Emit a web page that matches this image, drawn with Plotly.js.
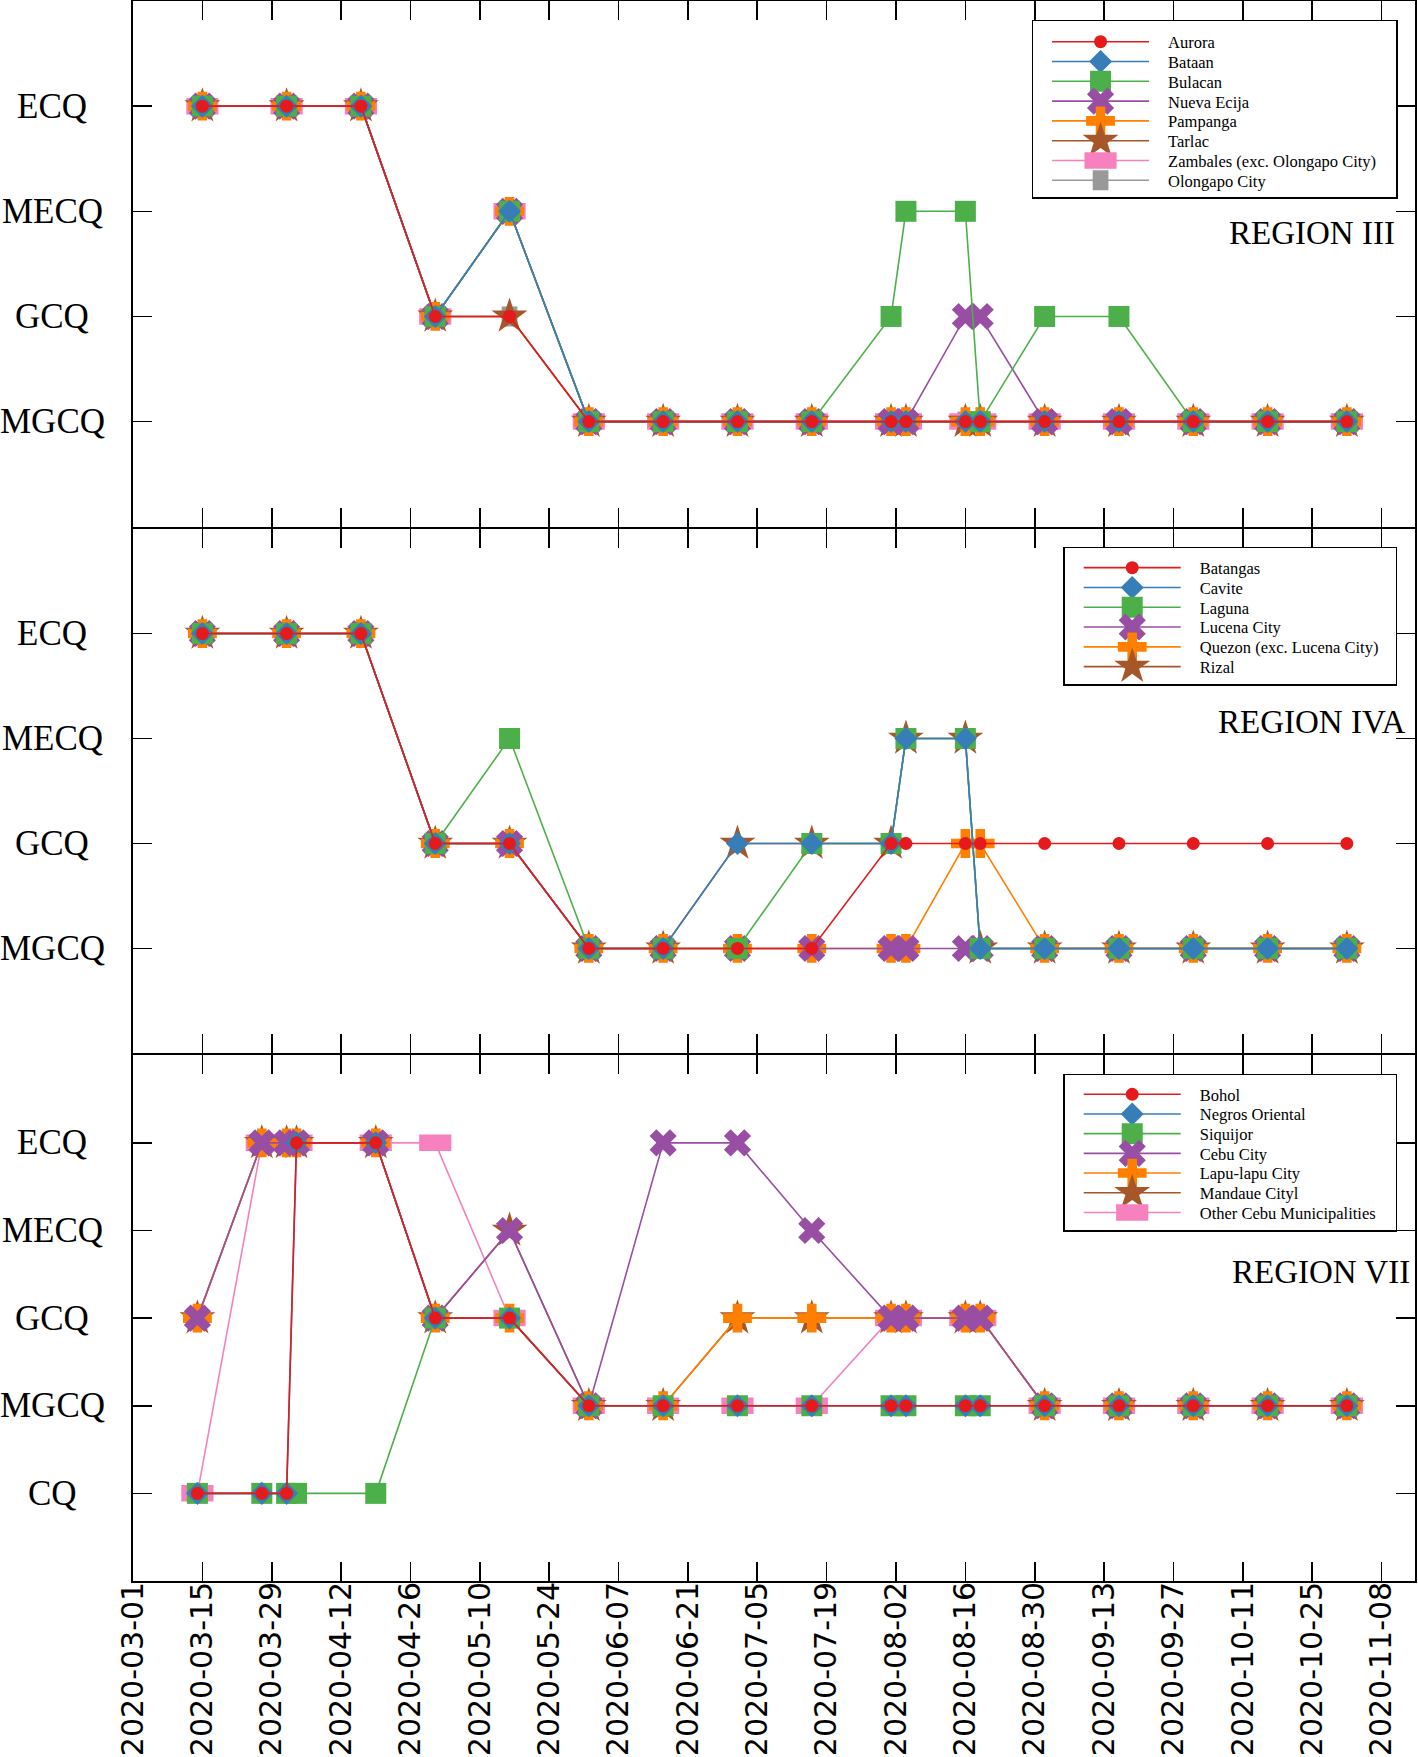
<!DOCTYPE html>
<html>
<head>
<meta charset="utf-8">
<script src="https://cdn.plot.ly/plotly-3.0.1.min.js"></script>
<style>
  html, body { margin: 0; padding: 0; background: #fff; }
  #chart { width: 1418px; height: 1757px; }
</style>
</head>
<body>
<div id="chart"></div>
<script>
// ---------------- DATA ----------------
const levelsA = ['MGCQ', 'GCQ', 'MECQ', 'ECQ'];          // Region III & IVA y categories (bottom -> top)
const levelsB = ['CQ', 'MGCQ', 'GCQ', 'MECQ', 'ECQ'];    // Region VII y categories (bottom -> top)
const regionTitles = ['REGION III', 'REGION IVA', 'REGION VII'];

const datesA = ['2020-03-15','2020-04-01','2020-04-16','2020-05-01','2020-05-16','2020-06-01',
  '2020-06-16','2020-07-01','2020-07-16','2020-08-01','2020-08-04','2020-08-16','2020-08-19',
  '2020-09-01','2020-09-16','2020-10-01','2020-10-16','2020-11-01'];
const datesB = ['2020-03-14','2020-03-27','2020-04-01','2020-04-03','2020-04-19','2020-05-01',
  '2020-05-16','2020-06-01','2020-06-16','2020-07-01','2020-07-16','2020-08-01','2020-08-04',
  '2020-08-16','2020-08-19','2020-09-01','2020-09-16','2020-10-01','2020-10-16','2020-11-01'];

// Region III
const r3Names = ['Aurora', 'Bataan', 'Bulacan', 'Nueva Ecija', 'Pampanga', 'Tarlac',
  'Zambales (exc. Olongapo City)', 'Olongapo City'];
const aurora     = ['ECQ','ECQ','ECQ','GCQ','GCQ','MGCQ','MGCQ','MGCQ','MGCQ','MGCQ','MGCQ','MGCQ','MGCQ','MGCQ','MGCQ','MGCQ','MGCQ','MGCQ'];
const bataan     = ['ECQ','ECQ','ECQ','GCQ','MECQ','MGCQ','MGCQ','MGCQ','MGCQ','MGCQ','MGCQ','MGCQ','MGCQ','MGCQ','MGCQ','MGCQ','MGCQ','MGCQ'];
const bulacan    = ['ECQ','ECQ','ECQ','GCQ','MECQ','MGCQ','MGCQ','MGCQ','MGCQ','GCQ','MECQ','MECQ','MGCQ','GCQ','GCQ','MGCQ','MGCQ','MGCQ'];
const nuevaEcija = ['ECQ','ECQ','ECQ','GCQ','MECQ','MGCQ','MGCQ','MGCQ','MGCQ','MGCQ','MGCQ','GCQ','GCQ','MGCQ','MGCQ','MGCQ','MGCQ','MGCQ'];
const pampanga   = ['ECQ','ECQ','ECQ','GCQ','MECQ','MGCQ','MGCQ','MGCQ','MGCQ','MGCQ','MGCQ','MGCQ','MGCQ','MGCQ','MGCQ','MGCQ','MGCQ','MGCQ'];
const tarlac     = ['ECQ','ECQ','ECQ','GCQ','GCQ','MGCQ','MGCQ','MGCQ','MGCQ','MGCQ','MGCQ','MGCQ','MGCQ','MGCQ','MGCQ','MGCQ','MGCQ','MGCQ'];
const zambales   = ['ECQ','ECQ','ECQ','GCQ','MECQ','MGCQ','MGCQ','MGCQ','MGCQ','MGCQ','MGCQ','MGCQ','MGCQ','MGCQ','MGCQ','MGCQ','MGCQ','MGCQ'];
const olongapo   = ['ECQ','ECQ','ECQ','GCQ','GCQ','MGCQ','MGCQ','MGCQ','MGCQ','MGCQ','MGCQ','MGCQ','MGCQ','MGCQ','MGCQ','MGCQ','MGCQ','MGCQ'];

// Region IVA
const r4Names = ['Batangas', 'Cavite', 'Laguna', 'Lucena City', 'Quezon (exc. Lucena City)', 'Rizal'];
const batangas = ['ECQ','ECQ','ECQ','GCQ','GCQ','MGCQ','MGCQ','MGCQ','MGCQ','GCQ','GCQ','GCQ','GCQ','GCQ','GCQ','GCQ','GCQ','GCQ'];
const cavite   = ['ECQ','ECQ','ECQ','GCQ','GCQ','MGCQ','MGCQ','GCQ','GCQ','GCQ','MECQ','MECQ','MGCQ','MGCQ','MGCQ','MGCQ','MGCQ','MGCQ'];
const laguna   = ['ECQ','ECQ','ECQ','GCQ','MECQ','MGCQ','MGCQ','MGCQ','GCQ','GCQ','MECQ','MECQ','MGCQ','MGCQ','MGCQ','MGCQ','MGCQ','MGCQ'];
const lucena   = ['ECQ','ECQ','ECQ','GCQ','GCQ','MGCQ','MGCQ','MGCQ','MGCQ','MGCQ','MGCQ','MGCQ','MGCQ','MGCQ','MGCQ','MGCQ','MGCQ','MGCQ'];
const quezon   = ['ECQ','ECQ','ECQ','GCQ','GCQ','MGCQ','MGCQ','MGCQ','MGCQ','MGCQ','MGCQ','GCQ','GCQ','MGCQ','MGCQ','MGCQ','MGCQ','MGCQ'];
const rizal    = ['ECQ','ECQ','ECQ','GCQ','GCQ','MGCQ','MGCQ','GCQ','GCQ','GCQ','MECQ','MECQ','MGCQ','MGCQ','MGCQ','MGCQ','MGCQ','MGCQ'];

// Region VII
const r7Names = ['Bohol', 'Negros Oriental', 'Siquijor', 'Cebu City', 'Lapu-lapu City', 'Mandaue Cityl',
  'Other Cebu Municipalities'];
const bohol     = ['CQ','CQ','CQ','ECQ','ECQ','GCQ','GCQ','MGCQ','MGCQ','MGCQ','MGCQ','MGCQ','MGCQ','MGCQ','MGCQ','MGCQ','MGCQ','MGCQ','MGCQ','MGCQ'];
const negros    = ['CQ','CQ','CQ','ECQ','ECQ','GCQ','GCQ','MGCQ','MGCQ','MGCQ','MGCQ','MGCQ','MGCQ','MGCQ','MGCQ','MGCQ','MGCQ','MGCQ','MGCQ','MGCQ'];
const siquijor  = ['CQ','CQ','CQ','CQ','CQ','GCQ','GCQ','MGCQ','MGCQ','MGCQ','MGCQ','MGCQ','MGCQ','MGCQ','MGCQ','MGCQ','MGCQ','MGCQ','MGCQ','MGCQ'];
const cebuCity  = ['GCQ','ECQ','ECQ','ECQ','ECQ','GCQ','MECQ','MGCQ','ECQ','ECQ','MECQ','GCQ','GCQ','GCQ','GCQ','MGCQ','MGCQ','MGCQ','MGCQ','MGCQ'];
const lapulapu  = ['GCQ','ECQ','ECQ','ECQ','ECQ','GCQ','GCQ','MGCQ','MGCQ','GCQ','GCQ','GCQ','GCQ','GCQ','GCQ','MGCQ','MGCQ','MGCQ','MGCQ','MGCQ'];
const mandaue   = ['GCQ','ECQ','ECQ','ECQ','ECQ','GCQ','MECQ','MGCQ','MGCQ','GCQ','GCQ','GCQ','GCQ','GCQ','GCQ','MGCQ','MGCQ','MGCQ','MGCQ','MGCQ'];
const otherCebu = ['CQ','ECQ','ECQ','ECQ','ECQ','ECQ','GCQ','MGCQ','MGCQ','MGCQ','MGCQ','GCQ','GCQ','GCQ','GCQ','MGCQ','MGCQ','MGCQ','MGCQ','MGCQ'];

const xTickStart = '2020-03-01';
const xRange = ['2020-03-01', '2020-11-14 18:00'];

// ---------------- STYLE ----------------
const colors = ['#e41a1c', '#377eb8', '#4daf4a', '#984ea3', '#ff7f00', '#a65628', '#f781bf', '#999999'];
const markerStyles = [
  {symbol: 'circle', size: 13},
  {symbol: 'diamond', size: 17.7},
  {symbol: 'square', size: 21},
  {symbol: 'x', size: 24},
  {symbol: 'cross', size: 24},
  {symbol: 'star', size: 27},
  {symbol: 'line-ew', size: 23, lw: 16.5},
  {symbol: 'line-ns', size: 14.3, lw: 15.7}
];

function makeTrace(name, dates, vals, idx, xa, ya, legendId) {
  const ms = markerStyles[idx];
  const marker = {symbol: ms.symbol, size: ms.size, color: colors[idx]};
  marker.line = ms.lw ? {width: ms.lw, color: colors[idx]} : {width: 0};
  return {
    type: 'scatter', mode: 'lines+markers', name: name,
    x: dates, y: vals, xaxis: xa, yaxis: ya, legend: legendId,
    line: {color: colors[idx], width: 1.6},
    marker: marker, cliponaxis: false
  };
}

const traces = [];
const r3Vals = [aurora, bataan, bulacan, nuevaEcija, pampanga, tarlac, zambales, olongapo];
const r4Vals = [batangas, cavite, laguna, lucena, quezon, rizal];
const r7Vals = [bohol, negros, siquijor, cebuCity, lapulapu, mandaue, otherCebu];
// draw in reverse so the first series is on top
for (let i = r3Vals.length - 1; i >= 0; i--) traces.push(makeTrace(r3Names[i], datesA, r3Vals[i], i, 'x', 'y', 'legend'));
for (let i = r4Vals.length - 1; i >= 0; i--) traces.push(makeTrace(r4Names[i], datesA, r4Vals[i], i, 'x2', 'y2', 'legend2'));
for (let i = r7Vals.length - 1; i >= 0; i--) traces.push(makeTrace(r7Names[i], datesB, r7Vals[i], i, 'x3', 'y3', 'legend3'));

const LW = 1.8;
const gap = LW / 1579.6;
const axisCommon = {
  showline: true, linecolor: '#000', linewidth: LW, mirror: 'ticks',
  ticks: 'inside', ticklen: 19, tickwidth: 1.6, tickcolor: '#000',
  showgrid: false, zeroline: false
};
const xCommon = Object.assign({}, axisCommon, {
  type: 'date', range: xRange, tick0: xTickStart, dtick: 14 * 86400000, tickformat: '%Y-%m-%d'
});

const serif = 'Liberation Serif, Times New Roman, serif';
const legendCommon = {
  xanchor: 'left', yanchor: 'top', bordercolor: '#000', borderwidth: 1.5, bgcolor: '#fff',
  font: {family: serif, size: 16.5, color: '#000'}, itemwidth: 125, traceorder: 'reversed'
};

const annotations = [];
function addTickLabels(levels, yref) {
  levels.forEach(function (lv, i) {
    annotations.push({xref: 'paper', yref: yref, x: -0.063, y: i, text: lv, showarrow: false,
      xanchor: 'center', yanchor: 'middle', font: {family: serif, size: 35, color: '#000'}});
  });
}
addTickLabels(levelsA, 'y');
addTickLabels(levelsA, 'y2');
addTickLabels(levelsB, 'y3');
const titlePos = [{x: 0.9862, y: 1.79, yref: 'y'}, {x: 0.9936, y: 2.16, yref: 'y2'}, {x: 0.998, y: 2.53, yref: 'y3'}];
regionTitles.forEach(function (t, i) {
  annotations.push({xref: 'paper', yref: titlePos[i].yref, x: titlePos[i].x, y: titlePos[i].y, text: t,
    showarrow: false, xanchor: 'right', yanchor: 'middle', font: {family: serif, size: 33, color: '#000'}});
});

const layout = {
  width: 1418, height: 1757,
  margin: {l: 133, r: 3, t: 1, b: 176},
  paper_bgcolor: '#fff', plot_bgcolor: '#fff',
  showlegend: true,
  xaxis: Object.assign({}, xCommon, {anchor: 'y', showticklabels: false}),
  xaxis2: Object.assign({}, xCommon, {anchor: 'y2', matches: 'x', showticklabels: false}),
  xaxis3: Object.assign({}, xCommon, {anchor: 'y3', matches: 'x', showticklabels: true, tickangle: -90,
    ticklabelstandoff: -13,
    tickfont: {family: 'DejaVu Sans, sans-serif', size: 30, color: '#000'}}),
  yaxis: Object.assign({}, axisCommon, {domain: [2/3 + gap / 2, 1], anchor: 'x', type: 'category',
    categoryorder: 'array', categoryarray: levelsA, range: [-1, 4], showticklabels: false}),
  yaxis2: Object.assign({}, axisCommon, {domain: [1/3 + gap / 2, 2/3 - gap / 2], anchor: 'x2', type: 'category',
    categoryorder: 'array', categoryarray: levelsA, range: [-1, 4], showticklabels: false}),
  yaxis3: Object.assign({}, axisCommon, {domain: [0, 1/3 - gap / 2], anchor: 'x3', type: 'category',
    categoryorder: 'array', categoryarray: levelsB, range: [-1, 5], showticklabels: false}),
  legend: Object.assign({}, legendCommon, {x: 0.7009, y: 0.988}),
  legend2: Object.assign({}, legendCommon, {x: 0.7256, y: 0.6545}),
  legend3: Object.assign({}, legendCommon, {x: 0.7256, y: 0.3212}),
  annotations: annotations
};

// legend box geometry (px): width, height, first-entry offset, entry spacing
const legendBoxes = {
  legend:  {w: 366, h: 179, first: 21, step: 19.8},
  legend2: {w: 334, h: 139, first: 20, step: 19.8},
  legend3: {w: 334, h: 158, first: 20, step: 19.7}
};

function tidyLegends(gd) {
  // plot marker path per trace index, so legend symbols match the plotted markers
  const plotPts = {};
  gd.querySelectorAll('.scatterlayer g.trace').forEach(function (g) {
    const cd = g.__data__;
    if (!cd || !cd[0] || !cd[0].trace) return;
    const p = g.querySelector('path.point');
    if (p) plotPts[cd[0].trace.index] = p;
  });
  Object.keys(legendBoxes).forEach(function (id) {
    const spec = legendBoxes[id];
    const lg = gd.querySelector('g.' + id);
    if (!lg) return;
    const bg = lg.querySelector('rect.bg');
    const bw = 1.5;
    const items = Array.prototype.slice.call(lg.querySelectorAll('g.traces'));
    const parseT = function (el) {
      const m = /translate\(\s*([-\d.e]+)[\s,]+([-\d.e]+)\s*\)/.exec(el.getAttribute('transform') || '');
      return m ? [parseFloat(m[1]), parseFloat(m[2])] : [0, 0];
    };
    items.sort(function (a, b) { return parseT(a)[1] - parseT(b)[1]; });
    if (bg) {
      bg.setAttribute('width', spec.w - bw);
      bg.setAttribute('height', spec.h - bw);
    }
    const top = bg ? bg.getBoundingClientRect().top : 0;
    items.forEach(function (it, k) {
      const t = parseT(it);
      const line = it.querySelector('path.js-line');
      if (line) line.setAttribute('d', 'M19,0h97');
      const ref = line || it;
      const lb = ref.getBoundingClientRect();
      const cy = lb.top + lb.height / 2;
      const target = top + spec.first + k * spec.step;
      it.setAttribute('transform', 'translate(' + t[0] + ',' + (t[1] + target - cy) + ')');
      const d = it.__data__;
      const lp = it.querySelector('path.scatterpts');
      if (d && d[0] && d[0].trace && lp && plotPts[d[0].trace.index]) {
        const src = plotPts[d[0].trace.index];
        lp.setAttribute('d', src.getAttribute('d'));
        lp.setAttribute('style', src.getAttribute('style'));
      }
    });
    const clip = document.querySelectorAll('clipPath rect');
  });
}

Plotly.newPlot('chart', traces, layout, {displayModeBar: false, staticPlot: true}).then(function (gd) {
  try { tidyLegends(gd); } catch (e) { console.log(e); }
});
</script>
</body>
</html>
